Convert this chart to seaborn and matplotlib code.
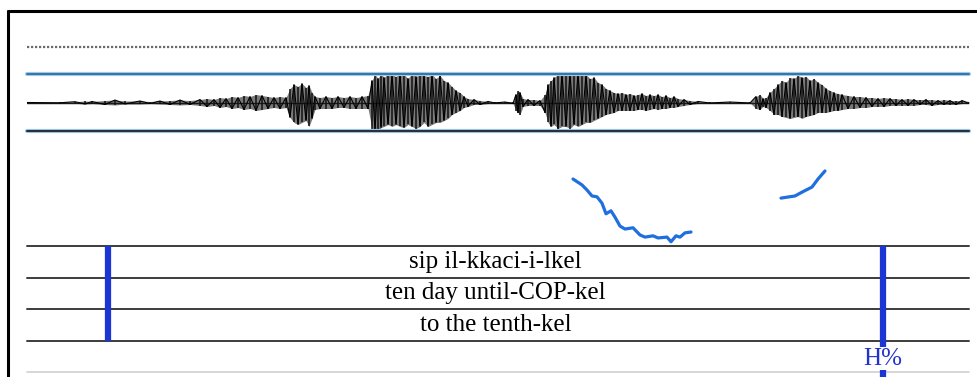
import numpy as np
import pandas as pd
import matplotlib
matplotlib.use("Agg")
import matplotlib.pyplot as plt
from matplotlib.lines import Line2D
import seaborn as sns

# ---------------- data ----------------
# waveform envelope (time in ms, amplitude in arbitrary units, full scale 28.5)
wave_t = [0, 66, 96, 116, 130, 156, 176, 196, 226, 246, 266, 286, 306, 326, 346, 360, 374, 386, 398, 410,
          422, 434, 446, 458, 470, 482, 494, 506, 518, 526, 534, 542, 550, 558, 564, 570, 576, 586, 598, 610,
          622, 634, 646, 658, 670, 682, 690, 696, 702, 708, 714, 722, 730, 738, 746, 754, 762, 770, 778, 786,
          794, 802, 810, 818, 826, 834, 842, 850, 858, 866, 874, 882, 894, 906, 922, 936, 956, 972, 978, 982,
          986, 992, 1002, 1014, 1026, 1036, 1042, 1048, 1054, 1062, 1070, 1078, 1086, 1094, 1102, 1110, 1118,
          1126, 1134, 1142, 1150, 1158, 1166, 1174, 1182, 1190, 1198, 1206, 1214, 1222, 1230, 1238, 1246, 1254,
          1262, 1270, 1278, 1286, 1294, 1302, 1314, 1326, 1342, 1366, 1406, 1446, 1458, 1466, 1472, 1478, 1486,
          1494, 1502, 1510, 1518, 1526, 1534, 1542, 1550, 1558, 1566, 1574, 1582, 1590, 1598, 1606, 1614, 1622,
          1630, 1642, 1654, 1666, 1678, 1690, 1702, 1714, 1726, 1738, 1750, 1762, 1774, 1786, 1798, 1810, 1822,
          1834, 1846, 1858, 1870, 1884]
wave_up = [0, 0.3, 0.8, 1.5, 1, 2, 2.5, 1.5, 1.5, 1, 1.5, 2, 2.5, 2, 3, 4, 3, 5, 4, 6,
           5, 7, 6, 8, 7, 6, 5, 6, 5, 14, 18, 16, 19, 15, 17, 10, 6, 5, 6, 5,
           6, 5, 6, 5, 6, 7, 22, 28, 24, 29, 25, 29, 28, 26, 29, 28, 24, 29, 26, 28,
           27, 26, 28, 24, 27, 22, 20, 16, 12, 10, 6, 4, 3, 2, 1, 1, 0.5, 1, 8, 12,
           10, 4, 3, 3, 2, 8, 18, 22, 25, 28, 29, 27, 29, 28, 29, 27, 28,
           24, 25, 20, 18, 14, 12, 10, 9, 10, 8, 9, 7, 8, 9, 7, 8, 7,
           8, 6, 7, 5, 6, 4, 3, 2, 1, 0.5, 0.5, 0.5, 6, 8, 4, 5, 10,
           14, 18, 22, 20, 25, 24, 27, 25, 26, 22, 24, 20, 18, 14, 12, 10, 9,
           8, 7, 6, 6, 5, 5, 4, 5, 4, 4, 3, 4, 3, 3, 3, 3, 2,
           3, 2, 2, 2, 1]
wave_down = [0, 0.3, 0.8, 1.5, 1, 2, 2.5, 1.5, 1.5, 1, 1.5, 2, 2.5, 2, 3, 4, 3, 5, 4, 6,
             5, 7, 6, 8, 7, 6, 5, 6, 5, 15, 20, 22, 20, 18, 24, 16, 7, 6, 6, 6,
             5, 5, 6, 6, 6, 6, 26, 28, 30, 25, 24, 22, 24, 22, 24, 25, 22, 24, 26, 24,
             20, 24, 22, 20, 20, 18, 16, 12, 10, 8, 5, 4, 2, 2, 1, 0.5, 0.5, 1, 8, 10,
             12, 4, 3, 3, 3, 10, 20, 24, 22, 26, 24, 24, 26, 22, 24, 22, 20,
             20, 18, 16, 14, 12, 11, 10, 8, 8, 8, 8, 8, 7, 7, 8, 7, 6,
             7, 6, 6, 5, 5, 4, 3, 2, 1, 0.5, 0.5, 0.5, 6, 7, 4, 5, 8,
             12, 12, 14, 15, 16, 15, 14, 16, 14, 13, 12, 10, 10, 10, 9, 8, 8,
             7, 6, 6, 5, 5, 4, 4, 4, 3, 3, 3, 3, 3, 2, 2, 3, 2,
             2, 2, 2, 1, 1]

# pitch contour (time ms, Hz), two voiced stretches
pitch1_t = [1092, 1110, 1120, 1130, 1140, 1150, 1158, 1168, 1176, 1186, 1196, 1212, 1226, 1236, 1252,
            1262, 1280, 1288, 1298, 1306, 1316, 1328]
pitch1_hz = [258, 244, 232, 218, 216, 201, 176, 183, 168, 147, 140, 143, 126, 121, 124,
             119, 121, 110, 124, 121, 131, 133]
pitch2_t = [1508, 1536, 1550, 1570, 1582, 1596]
pitch2_hz = [213, 218, 227, 239, 258, 277]

# annotation tiers
tier_labels = ["sip il-kkaci-i-lkel", "ten day until-COP-kel", "to the tenth-kel"]
interval_start = 162
interval_end = 1712
tone_time = 1712
tone_label = "H%"

DUR = 1884

# ---------------- figure ----------------
sns.set_theme(style="white")
plt.rcParams["font.family"] = ["Liberation Serif", "DejaVu Serif"]

W, H = 977, 377
fig = plt.figure(figsize=(W / 100, H / 100), dpi=100)
fig.patch.set_facecolor("white")


def rect(x0, y0, x1, y1):
    return [x0 / W, 1 - y1 / H, (x1 - x0) / W, (y1 - y0) / H]


# outer frame (top and left edges visible)
fig.add_artist(Line2D([8 / W, 8 / W], [0, 1 - 11 / H], color="black", lw=2.2, transform=fig.transFigure))
fig.add_artist(Line2D([8 / W, 1], [1 - 11 / H, 1 - 11 / H], color="black", lw=2.2, transform=fig.transFigure))
# dotted top line
fig.add_artist(Line2D([27 / W, 969 / W], [1 - 47 / H, 1 - 47 / H], color="#6b6b6b", lw=1.6,
                      linestyle=(0, (1, 0.8)), transform=fig.transFigure))

# ---- waveform ----
axw = fig.add_axes(rect(27, 74, 969, 131))
axw.set_xlim(0, DUR)
axw.set_ylim(-28.5, 28.5)
axw.axis("off")
t = np.array(wave_t, dtype=float)
up = np.array(wave_up, dtype=float)
dn = np.array(wave_down, dtype=float)
axw.fill_between(t, -dn, up, color="#7a7a7a", lw=0)
axw.vlines(t, -dn, up, color="#111111", lw=1.1)
zig = np.where(np.arange(len(t)) % 2 == 0, up, -dn)
wdf = pd.DataFrame({"t": t, "amp": zig})
sns.lineplot(data=wdf, x="t", y="amp", sort=False, estimator=None, color="black", lw=0.8, ax=axw)
axw.plot([0, DUR], [0, 0], color="#1a1a1a", lw=1.0, zorder=1)
axw.axhline(0, color="#5a8fbf", lw=0.8, ls=(0, (2, 2)), zorder=0)
axw.axhline(28.5, color="#9ecbea", lw=3.0, clip_on=False, zorder=3)
axw.axhline(28.5, color="#2f6d9e", lw=1.3, clip_on=False, zorder=4)
axw.axhline(-28.5, color="#9ecbea", lw=3.0, clip_on=False, zorder=3)
axw.axhline(-28.5, color="#27323c", lw=1.5, clip_on=False, zorder=4)
axw.set_xlabel("")
axw.set_ylabel("")

# ---- pitch ----
axp = fig.add_axes(rect(27, 140, 969, 246))
axp.set_xlim(0, DUR)
axp.set_ylim(100, 350)
axp.axis("off")
pdf = pd.DataFrame({
    "t": pitch1_t + pitch2_t,
    "hz": pitch1_hz + pitch2_hz,
    "seg": [1] * len(pitch1_t) + [2] * len(pitch2_t),
})
sns.lineplot(data=pdf, x="t", y="hz", units="seg", estimator=None, sort=False,
             color="#1f6fe0", lw=2.3, ax=axp)

# ---- tiers ----
axt = fig.add_axes(rect(27, 246, 969, 372))
axt.set_xlim(0, DUR)
axt.set_ylim(4, 0)
axt.axis("off")
for y in range(4):
    axt.axhline(y, color="#3c3c3c", lw=1.4, clip_on=False)
axt.axhline(4, color="#cfcfcf", lw=1.2, clip_on=False)
axt.vlines([interval_start, interval_end], 0, 3, color="#1c36d4", lw=4.5, zorder=3)
axt.vlines([tone_time], 3, 4.2, color="#1c36d4", lw=4.5, zorder=3, clip_on=False)
mid = (interval_start + interval_end) / 2
for i, lab in enumerate(tier_labels):
    axt.text(mid, i + 0.5, lab, ha="center", va="center", fontsize=18, color="black")
axt.text(tone_time, 3.58, tone_label, ha="center", va="center", fontsize=18, color="#2233cc", zorder=5,
         bbox=dict(facecolor="white", edgecolor="none", pad=0.3))

fig.savefig("out.png", dpi=100)
